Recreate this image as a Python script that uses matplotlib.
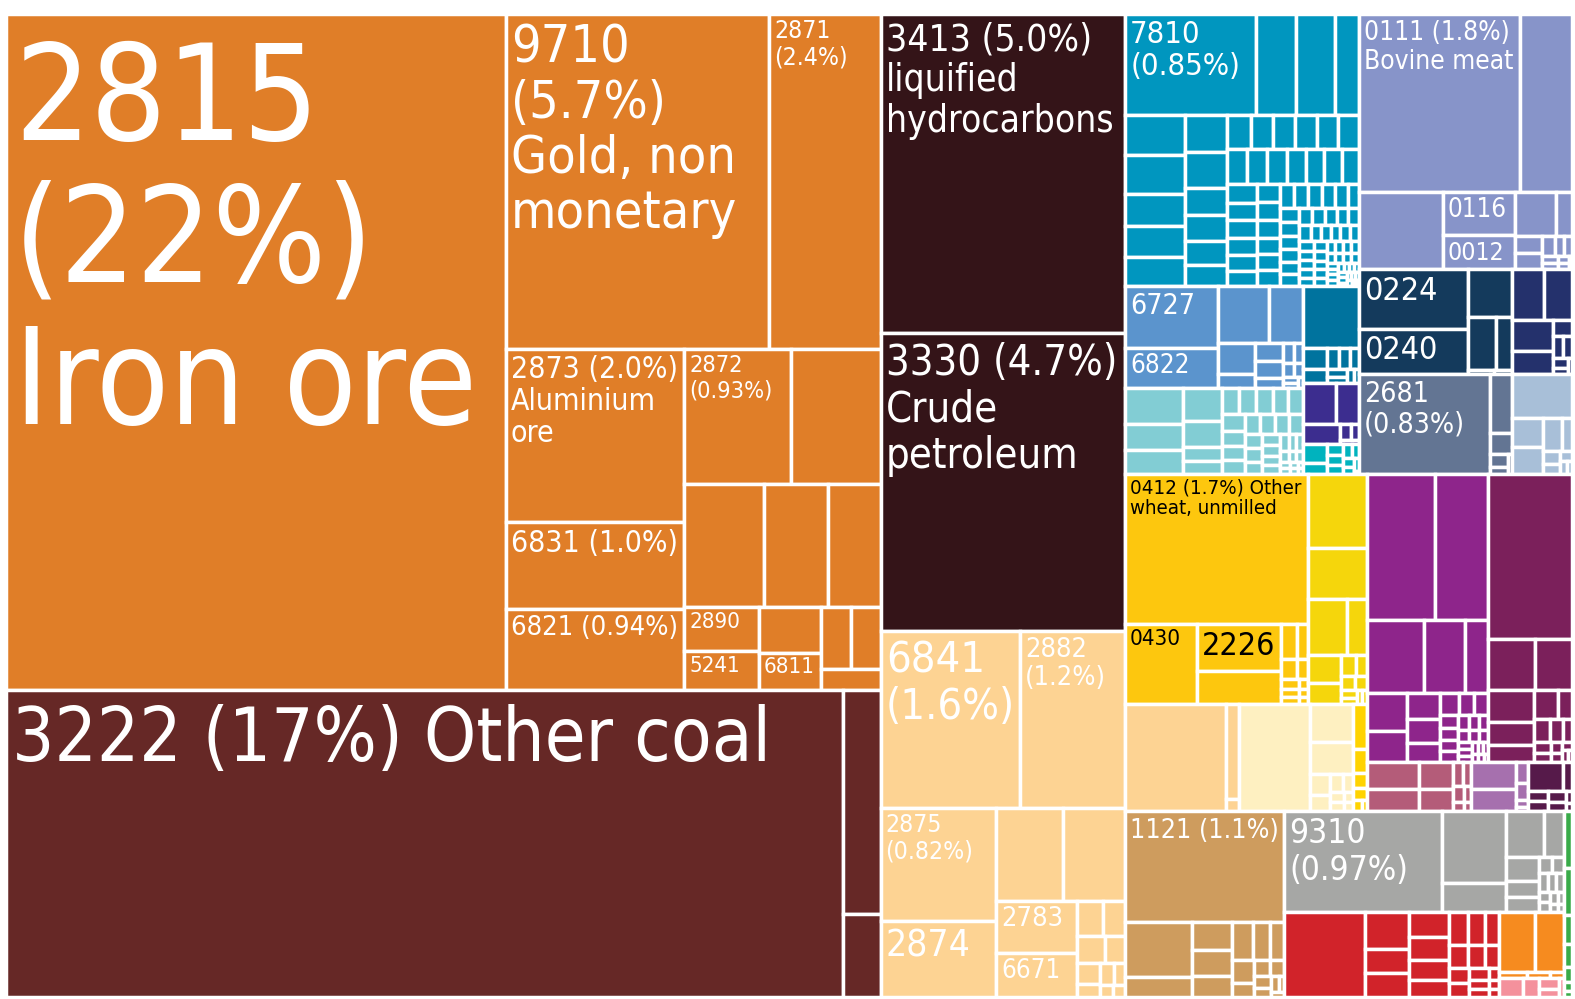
import os
import matplotlib.pyplot as plt
from matplotlib import font_manager as fm
from matplotlib.patches import Rectangle

# ---- data: share of total exports (%) per product, one list per product group ----
orange_vals = [21.8, 5.7, 2.4, 2.0, 1.0, 0.94, 0.93, 0.78, 0.63, 0.51, 0.42,
               0.21, 0.19, 0.18, 0.15, 0.12, 0.12, 0.08]
orange_codes = ['2815', '9710', '2871', '2873', '6831', '6821', '2872', '', '', '', '',
                '2890', '5241', '', '6811']
coal_vals = [16.57, 0.54, 0.2]
coal_codes = ['3222']
petro_vals = [5.04, 4.70]
petro_codes = ['3413', '3330']
peach_vals = [1.6, 1.2, 0.84, 0.57, 0.40, 0.37, 0.27, 0.23, 0.06, 0.05, 0.05,
              0.035, 0.03, 0.02, 0.02, 0.015, 0.01, 0.01]
peach_codes = ['6841', '2882', '2875', '2874', '', '', '2783', '6671']

cyan_vals = [0.855, 0.261, 0.248, 0.16, 0.155, 0.15, 0.125, 0.118, 0.114, 0.10, 0.099,
             0.072, 0.071, 0.063, 0.058, 0.052, 0.05, 0.049, 0.048, 0.047, 0.046,
             0.045, 0.044, 0.043, 0.042, 0.041, 0.04, 0.038, 0.036, 0.034, 0.033,
             0.032, 0.031, 0.029, 0.028, 0.027, 0.026, 0.025, 0.024, 0.024, 0.022,
             0.022, 0.021, 0.02, 0.02, 0.018, 0.018, 0.017, 0.016, 0.016, 0.015,
             0.015, 0.014, 0.014, 0.013, 0.012, 0.012, 0.012, 0.011, 0.011, 0.010,
             0.010, 0.010, 0.009, 0.009, 0.009, 0.008, 0.008, 0.008, 0.008, 0.007,
             0.007, 0.007, 0.006, 0.006, 0.006, 0.006, 0.005, 0.005, 0.005, 0.005,
             0.004, 0.004, 0.004, 0.004, 0.004, 0.003, 0.003, 0.003, 0.003, 0.003,
             0.002, 0.002, 0.002, 0.002, 0.002, 0.001, 0.001, 0.001]
cyan_codes = ['7810']
blue_vals = [0.37, 0.24, 0.19, 0.126, 0.075, 0.033, 0.032, 0.029, 0.018, 0.014,
             0.012, 0.01, 0.008, 0.006, 0.005, 0.004]
blue_codes = ['6727', '6822']
lteal_vals = [0.136, 0.095, 0.091, 0.08, 0.065, 0.034, 0.032, 0.03, 0.029, 0.028,
              0.026, 0.026, 0.025, 0.022, 0.021, 0.02, 0.02, 0.019, 0.018, 0.018,
              0.016, 0.015, 0.014, 0.013, 0.012, 0.011, 0.01, 0.009, 0.008, 0.007,
              0.006, 0.005, 0.005, 0.004, 0.004, 0.003, 0.003, 0.002, 0.002]
dteal_vals = [0.223, 0.034, 0.021, 0.016, 0.015, 0.012, 0.01, 0.008, 0.006, 0.005]
purple_vals = [0.087, 0.062, 0.047, 0.011, 0.008, 0.005]
teal_vals = [0.029, 0.017, 0.012, 0.01, 0.009, 0.008, 0.007, 0.006, 0.005, 0.004, 0.001]

bovine_vals = [1.84, 0.60, 0.42, 0.205, 0.157, 0.115, 0.047, 0.03, 0.027, 0.016,
               0.012, 0.01, 0.008, 0.006, 0.005, 0.004, 0.003]
bovine_codes = ['0111', '', '', '0116', '0012']
dairy_vals = [0.42, 0.32, 0.135, 0.093, 0.055, 0.007, 0.005]
dairy_codes = ['0224', '0240']
navy_vals = [0.108, 0.091, 0.082, 0.06, 0.02, 0.015, 0.012, 0.01, 0.006, 0.004]
slate_vals = [0.84, 0.084, 0.03, 0.016, 0.008, 0.005]
slate_codes = ['2681']
lblue_vals = [0.17, 0.058, 0.055, 0.04, 0.02, 0.015, 0.01, 0.008, 0.006, 0.004]

dyellow_vals = [1.78, 0.37, 0.25, 0.18, 0.036, 0.025, 0.02, 0.015, 0.012, 0.01,
                0.008, 0.006, 0.005, 0.004]
dyellow_codes = ['0412', '0430', '2226']
lyellow_vals = [0.28, 0.19, 0.14, 0.071, 0.059, 0.046, 0.02, 0.015, 0.012, 0.01,
                0.008, 0.006, 0.005, 0.004]
pcream_vals = [0.69, 0.08, 0.01]
cream_vals = [0.49, 0.105, 0.09, 0.027, 0.02, 0.015, 0.012, 0.01, 0.008, 0.006, 0.005]
gold_vals = [0.038, 0.02, 0.013, 0.01, 0.006, 0.003]

magenta_vals = [0.65, 0.5, 0.27, 0.19, 0.109, 0.1, 0.08, 0.056, 0.051, 0.04, 0.026,
                0.021, 0.02, 0.015, 0.014, 0.013, 0.012, 0.011, 0.01, 0.009, 0.008,
                0.008, 0.007, 0.006, 0.006, 0.005, 0.005, 0.004, 0.004, 0.003, 0.003,
                0.002]
dmag_vals = [0.895, 0.156, 0.122, 0.093, 0.066, 0.05, 0.045, 0.026, 0.024, 0.02,
             0.013, 0.012, 0.01, 0.008, 0.006, 0.005, 0.004, 0.003]
rose_vals = [0.092, 0.075, 0.058, 0.047, 0.017, 0.013, 0.012, 0.008, 0.006, 0.004]
lilac_vals = [0.078, 0.063, 0.016, 0.013, 0.005, 0.003]
dpurple_vals = [0.067, 0.018, 0.013, 0.012, 0.012, 0.01, 0.005, 0.003]

tan_vals = [1.14, 0.24, 0.086, 0.073, 0.068, 0.055, 0.05, 0.042, 0.037, 0.032,
            0.02, 0.017, 0.015, 0.012, 0.01, 0.008, 0.006, 0.004]
tan_codes = ['1121']
grey_vals = [1.03, 0.30, 0.118, 0.115, 0.058, 0.052, 0.035, 0.032, 0.014, 0.012,
             0.011, 0.01, 0.009, 0.008, 0.007, 0.006, 0.005, 0.004, 0.003]
grey_codes = ['9310']
red_vals = [0.44, 0.105, 0.07, 0.068, 0.065, 0.06, 0.05, 0.045, 0.04, 0.035, 0.03,
            0.028, 0.025, 0.022, 0.02, 0.018, 0.015, 0.012, 0.01, 0.008, 0.006, 0.005]
orange2_vals = [0.14, 0.11, 0.01, 0.008, 0.005]
pink_vals = [0.03, 0.02, 0.015, 0.01, 0.006]
green_vals = [0.03, 0.025, 0.015, 0.012, 0.008, 0.005, 0.003]

label_text = {
    '2815': '2815\n(22%)\nIron ore',
    '9710': '9710\n(5.7%)\nGold, non\nmonetary',
    '2871': '2871\n(2.4%)',
    '2873': '2873 (2.0%)\nAluminium\nore',
    '6831': '6831 (1.0%)',
    '6821': '6821 (0.94%)',
    '2872': '2872\n(0.93%)',
    '3222': '3222 (17%) Other coal',
    '3413': '3413 (5.0%)\nliquified\nhydrocarbons',
    '3330': '3330 (4.7%)\nCrude\npetroleum',
    '6841': '6841\n(1.6%)',
    '2882': '2882\n(1.2%)',
    '2875': '2875\n(0.82%)',
    '7810': '7810\n(0.85%)',
    '0111': '0111 (1.8%)\nBovine meat',
    '2681': '2681\n(0.83%)',
    '0412': '0412 (1.7%) Other\nwheat, unmilled',
    '1121': '1121 (1.1%)',
    '9310': '9310\n(0.97%)',
}
label_pt = {'2815': 108, '9710': 42, '2871': 20, '2873': 27, '6831': 27, '6821': 27,
            '2872': 19, '2890': 18, '5241': 18, '6811': 18, '3222': 60, '3413': 30,
            '3330': 39, '6841': 35, '2882': 22, '2875': 20, '2874': 30, '2783': 22,
            '6671': 21, '7810': 25, '6727': 23, '6822': 21, '0111': 26, '0116': 21,
            '0012': 20, '0224': 26, '0240': 26, '2681': 23, '0412': 17, '0430': 18,
            '2226': 26, '1121': 30, '9310': 27}


def pick_font():
    # narrowest regular sans face that is installed, else a plain sans family
    bases = ('noto sans', 'roboto', 'liberation sans', 'open sans', 'dejavu sans')
    rank = {'ultra-condensed': 0, 'extra-condensed': 1, 'condensed': 2,
            'semi-condensed': 3}
    best = None
    for f in fm.fontManager.ttflist:
        name = f.name.lower()
        fname = os.path.basename(f.fname).lower()
        if f.style != 'normal' or 'mono' in name or 'serif' in name:
            continue
        w = f.weight if isinstance(f.weight, int) else {'normal': 400, 'regular': 400,
                                                        'book': 400, 'medium': 500}.get(f.weight, 0)
        if w not in (400, 500):
            continue
        if not any(name == b or name.startswith(b + ' ') for b in bases):
            continue
        r = rank.get(f.stretch)
        if r is None:
            if 'extracondensed' in fname or 'extra condensed' in name:
                r = 1
            elif 'semicondensed' in fname:
                r = 3
            elif 'condensed' in fname or 'narrow' in fname or 'condensed' in name \
                    or 'narrow' in name:
                r = 2
        if r is None:
            continue
        if best is None or r < best[0]:
            best = (r, f.fname)
    if best:
        return fm.FontProperties(fname=best[1])
    return fm.FontProperties(family=['Roboto', 'Liberation Sans', 'DejaVu Sans'])


PHI = (1 + 5 ** 0.5) / 2


def squarify(values, x0, y0, x1, y1):
    # port of d3.treemapSquarify (golden ratio), y grows downwards
    rects = [None] * len(values)
    value = sum(values)
    i0, n = 0, len(values)
    while i0 < n:
        dx, dy = x1 - x0, y1 - y0
        s = mn = mx = values[i0]
        i1 = i0 + 1
        alpha = max(dy / dx, dx / dy) / (value * PHI)
        beta = s * s * alpha
        best = max(mx / beta, beta / mn)
        while i1 < n:
            v = values[i1]
            s2, mn2, mx2 = s + v, min(mn, v), max(mx, v)
            beta = s2 * s2 * alpha
            r = max(mx2 / beta, beta / mn2)
            if r > best:
                break
            s, mn, mx, best = s2, mn2, mx2, r
            i1 += 1
        if dx < dy:
            h = dy * s / value
            xx = x0
            for i in range(i0, i1):
                w = dx * values[i] / s
                rects[i] = (xx, y0, w, h)
                xx += w
            y0 += h
        else:
            w = dx * s / value
            yy = y0
            for i in range(i0, i1):
                h = dy * values[i] / s
                rects[i] = (x0, yy, w, h)
                yy += h
            x0 += w
        value -= s
        i0 = i1
    return rects


def split(values, x0, y0, x1, y1, cols):
    tot = sum(values)
    rects, pos = [], 0.0
    for v in values:
        if cols:
            w = (x1 - x0) * v / tot
            rects.append((x0 + pos, y0, w, y1 - y0))
            pos += w
        else:
            h = (y1 - y0) * v / tot
            rects.append((x0, y0 + pos, x1 - x0, h))
            pos += h
    return rects


def group(vals, color, codes=(), tc='white'):
    return {'vals': vals, 'color': color, 'codes': codes, 'tc': tc}


def block(mode, *kids):
    return {'mode': mode, 'kids': kids}


def total(n):
    return sum(n['vals']) if 'vals' in n else sum(total(k) for k in n['kids'])


def layout(n, x0, y0, x1, y1, out):
    if 'vals' in n:
        for i, r in enumerate(squarify(n['vals'], x0, y0, x1, y1)):
            out.append((n, i, r))
        return
    vals = [total(k) for k in n['kids']]
    if n['mode'] == 'cols':
        rects = split(vals, x0, y0, x1, y1, True)
    elif n['mode'] == 'rows':
        rects = split(vals, x0, y0, x1, y1, False)
    else:
        rects = squarify(vals, x0, y0, x1, y1)
    for k, (x, y, w, h) in zip(n['kids'], rects):
        layout(k, x, y, x + w, y + h, out)


peach = '#FDD393'
part_a = block('sq',
               group(orange_vals, '#E07E28', orange_codes),
               group(coal_vals, '#662826', coal_codes),
               group(petro_vals, '#341418', petro_codes),
               group(peach_vals, peach, peach_codes))
part_c = block('sq',
               group(cyan_vals, '#0096BF', cyan_codes),
               block('sq',
                     group(blue_vals, '#5B94CD', blue_codes),
                     group(lteal_vals, '#82CDD4'),
                     group(dteal_vals, '#00739E'),
                     group(purple_vals, '#3C2D8F'),
                     group(teal_vals, '#00B3BE')))
part_d = block('sq',
               group(bovine_vals, '#8794C9', bovine_codes),
               block('sq', group(dairy_vals, '#143A5C', dairy_codes),
                     group(navy_vals, '#24316C')),
               block('sq', group(slate_vals, '#637593', slate_codes),
                     group(lblue_vals, '#A8BFD8')))
part_e = block('sq',
               block('sq', group(dyellow_vals, '#FDC70E', dyellow_codes, 'black'),
                     group(lyellow_vals, '#F5D60C')),
               block('sq', group(pcream_vals, peach),
                     group(cream_vals, '#FEF0C1'),
                     group(gold_vals, '#FFD300')))
part_f = block('sq',
               block('cols', group(magenta_vals, '#8E258B'), group(dmag_vals, '#7B205B')),
               block('sq', group(rose_vals, '#B45C79'), group(lilac_vals, '#A670AE'),
                     group(dpurple_vals, '#561A4A')))
part_g = block('rows',
               group(grey_vals, '#A6A7A5', grey_codes),
               block('cols', group(red_vals, '#D1232A'),
                     block('rows', group(orange2_vals, '#F68B1F'),
                           group(pink_vals, '#F4919C'))))
part_b = block('sq', part_c, part_d, part_e, part_f,
               group(tan_vals, '#CE9C5E', tan_codes), part_g,
               group(green_vals, '#39AB49'))
root = block('sq', part_a, part_b)

cells = []
layout(root, 6, 14, 1572, 997, cells)

fig = plt.figure(figsize=(15.75, 9.99), dpi=100)
ax = fig.add_axes([0, 0, 1, 1])
ax.set_xlim(0, 1575)
ax.set_ylim(999, 0)
ax.axis('off')

fp = pick_font()
renderer = fig.canvas.get_renderer()
# the reference face is very narrow: ease sizes down a little if this face is wider
probe = ax.text(0, 0, '2815', fontproperties=fp, fontsize=108)
pw = probe.get_window_extent(renderer).width
probe.remove()
scale = min(1.0, 232.0 / pw) ** 0.3

labels = []
for g, i, (x, y, w, h) in cells:
    ax.add_patch(Rectangle((x, y), w, h, facecolor=g['color'], edgecolor='white',
                           linewidth=2.5))
    if i < len(g['codes']) and g['codes'][i]:
        code = g['codes'][i]
        pt = label_pt.get(code, 18) * scale
        em = pt * 100 / 72
        px, py = 4 + 0.03 * em, 1 + 0.17 * em
        t = ax.text(x + px, y + py, label_text.get(code, code), fontproperties=fp,
                    fontsize=pt, color=g['tc'], ha='left', va='top',
                    linespacing=1.13 if pt < 50 else 1.12)
        labels.append((t, w - px - 3, h - py - 4))

# shrink any label that would spill out of its cell
for t, aw, ah in labels:
    bb = t.get_window_extent(renderer)
    s = min(1.0, aw / bb.width, ah / bb.height)
    if s < 1.0:
        t.set_fontsize(t.get_fontsize() * s * 0.98)

fig.savefig('out.png', dpi=100)
